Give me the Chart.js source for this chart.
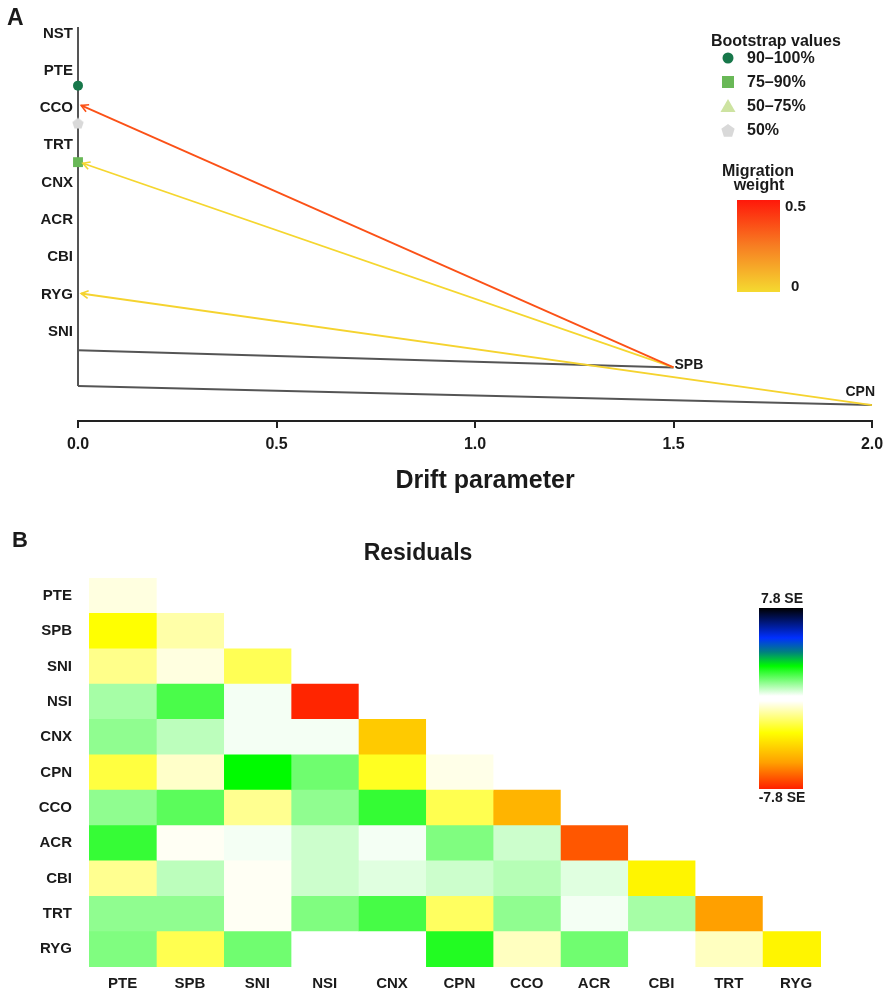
<!DOCTYPE html>
<html>
<head>
<meta charset="utf-8">
<script src="https://cdn.jsdelivr.net/npm/chart.js@4/dist/chart.umd.min.js"></script>
<style>
  body { margin: 0; background: #fff; }
  #wrap { position: relative; width: 888px; height: 993px; }
  #tree { position: absolute; left: 0; top: 0; }
  #resid { position: absolute; left: 0; top: 500px; }
</style>
</head>
<body>
<div id="wrap">
  <canvas id="tree" width="888" height="500"></canvas>
  <canvas id="resid" width="888" height="493"></canvas>
</div>
<script>
// ---- panel A data ----
const popLabels = ["NST", "PTE", "CCO", "TRT", "CNX", "ACR", "CBI", "RYG", "SNI"];
const popRows = [1, 2, 3, 4, 5, 6, 7, 8, 9];
const driftTicks = [0, 0.5, 1, 1.5, 2];

// tree edges as [drift, row] points
const treeTrunk = [[0, 0.83], [0, 10.45]];
const spbBranch = [[0, 9.49], [1.5, 9.95]];
const cpnBranch = [[0, 10.45], [2.0, 10.96]];

// migration edges
const migFrom = [[1.5, 9.95], [1.5, 9.95], [2.0, 10.96]];
const migTo = [[0.008, 2.93], [0.012, 4.48], [0.008, 7.97]];
const migWeight = [0.36, 0.01, 0.02];

// bootstrap markers on the trunk
const bootRows = [2.4, 3.41, 4.45];
const bootClass = [0, 3, 1];
const bootLabels = ["90–100%", "75–90%", "50–75%", "50%"];
const bootColors = ["#17774a", "#69b857", "#cde3a1", "#d9d9d9"];

// ---- panel B data ----
const residPops = ["PTE", "SPB", "SNI", "NSI", "CNX", "CPN", "CCO", "ACR", "CBI", "TRT", "RYG"];
const residMax = 7.8;
const residuals = [
    [-0.34],
    [-2.8, -0.96],
    [-1.29, -0.34, -1.87],
    [0.93, 1.88, 0.11, -7.7],
    [1.15, 0.7, 0.11, 0.11, -4.3],
    [-2.1, -0.6, 2.65, 1.5, -2.45, -0.25],
    [1.15, 1.71, -1.22, 1.15, 2.11, -1.93, -4.9],
    [2.09, -0.12, 0.11, 0.53, 0.11, 1.32, 0.53, -6.8],
    [-1.22, 0.7, -0.12, 0.53, 0.32, 0.53, 0.76, 0.32, -3.1],
    [1.15, 1.15, -0.12, 1.32, 1.92, -1.75, 1.15, 0.11, 0.93, -5.46],
    [1.32, -1.93, 1.49, 0, 0, 2.3, -0.69, 1.49, 0, -0.69, -3.1],
];

const FONT = '"Liberation Sans", Arial, sans-serif';
Chart.defaults.font.family = FONT;
Chart.defaults.color = "#1a1a1a";

// colour ramps
const negStops = [[0, [255, 255, 255]], [0.36, [255, 255, 0]], [0.7, [255, 160, 0]], [1, [255, 32, 0]]];
const posStops = [[0, [255, 255, 255]], [0.34, [0, 251, 0]], [0.5, [0, 128, 128]], [0.66, [0, 48, 255]], [1, [0, 0, 0]]];
const migStops = [[0, [245, 218, 48]], [0.5, [247, 126, 34]], [1, [255, 24, 10]]];

const ramp = (stops, t) => {
    for (let k = 1; k < stops.length; k++) {
        if (t <= stops[k][0]) {
            const [t0, c0] = stops[k - 1];
            const [t1, c1] = stops[k];
            const f = (t - t0) / (t1 - t0);
            const c = c0.map((v, n) => Math.round(v + (c1[n] - v) * f));
            return `rgb(${c[0]},${c[1]},${c[2]})`;
        }
    }
    const c = stops[stops.length - 1][1];
    return `rgb(${c[0]},${c[1]},${c[2]})`;
};

const residColor = (v) => {
    const t = Math.min(1, Math.abs(v) / residMax);
    return ramp(v < 0 ? negStops : posStops, t);
};
const migColor = (w) => ramp(migStops, Math.min(1, w / 0.5));

// pentagon marker
const pentagon = (size, color) => {
    const c = document.createElement("canvas");
    c.width = size;
    c.height = size;
    const g = c.getContext("2d");
    const r = size / 2;
    g.fillStyle = color;
    g.beginPath();
    for (let k = 0; k < 5; k++) {
        const a = -Math.PI / 2 + (k * 2 * Math.PI) / 5;
        g.lineTo(r + r * Math.cos(a), r + 0.5 + r * Math.sin(a));
    }
    g.closePath();
    g.fill();
    return c;
};
const markerStyles = ["circle", "rect", "triangle", pentagon(12, bootColors[3])];
const markerRadius = [5, 7, 6, 6];

const pts = (arr) => arr.map(([x, y]) => ({ x, y }));

// ---- panel A decorations ----
const treeDecor = {
    id: "treeDecor",
    afterDraw(chart) {
        const { ctx, scales } = chart;
        const px = (p) => [scales.x.getPixelForValue(p[0]), scales.y.getPixelForValue(p[1])];
        ctx.save();

        // arrowheads
        migFrom.forEach((from, i) => {
            const [x0, y0] = px(from);
            const [x1, y1] = px(migTo[i]);
            const a = Math.atan2(y0 - y1, x0 - x1);
            ctx.strokeStyle = migColor(migWeight[i]);
            ctx.lineWidth = 1.6;
            ctx.beginPath();
            ctx.moveTo(x1 + 8 * Math.cos(a + 0.5), y1 + 8 * Math.sin(a + 0.5));
            ctx.lineTo(x1, y1);
            ctx.lineTo(x1 + 8 * Math.cos(a - 0.5), y1 + 8 * Math.sin(a - 0.5));
            ctx.stroke();
        });

        ctx.fillStyle = "#1a1a1a";
        // leaf labels
        ctx.font = `bold 14px ${FONT}`;
        ctx.textBaseline = "middle";
        const [sx, sy] = px(spbBranch[1]);
        ctx.textAlign = "left";
        ctx.fillText("SPB", sx + 1, sy - 2.5);
        const [cx, cy] = px(cpnBranch[1]);
        ctx.textAlign = "right";
        ctx.fillText("CPN", cx + 3, cy - 12.5);

        // panel letter
        ctx.textAlign = "left";
        ctx.textBaseline = "alphabetic";
        ctx.font = `bold 23px ${FONT}`;
        ctx.fillText("A", 7, 25);

        // axis title
        ctx.font = `bold 25px ${FONT}`;
        ctx.textAlign = "center";
        ctx.textBaseline = "middle";
        ctx.fillText("Drift parameter", 485, 481);

        // bootstrap legend
        ctx.textAlign = "left";
        ctx.textBaseline = "alphabetic";
        ctx.font = `bold 16px ${FONT}`;
        ctx.fillText("Bootstrap values", 711, 46);
        ctx.textBaseline = "middle";
        bootLabels.forEach((lab, k) => {
            const y = 58 + k * 24;
            ctx.fillStyle = bootColors[k];
            ctx.beginPath();
            if (k === 0) {
                ctx.arc(728, y, 5.5, 0, Math.PI * 2);
            } else if (k === 1) {
                ctx.rect(722, y - 6, 12, 12);
            } else if (k === 2) {
                ctx.moveTo(728, y - 7);
                ctx.lineTo(735.5, y + 6);
                ctx.lineTo(720.5, y + 6);
                ctx.closePath();
            } else {
                for (let n = 0; n < 5; n++) {
                    const a = -Math.PI / 2 + (n * 2 * Math.PI) / 5;
                    ctx.lineTo(728 + 7 * Math.cos(a), y + 1 + 7 * Math.sin(a));
                }
                ctx.closePath();
            }
            ctx.fill();
            ctx.fillStyle = "#1a1a1a";
            ctx.fillText(lab, 747, y + 1);
        });

        // migration weight scale
        ctx.textAlign = "center";
        ctx.textBaseline = "alphabetic";
        ctx.fillText("Migration", 758, 176);
        ctx.fillText("weight", 759, 190);
        const grad = ctx.createLinearGradient(0, 292, 0, 200);
        migStops.forEach(([t, c]) => grad.addColorStop(t, `rgb(${c[0]},${c[1]},${c[2]})`));
        ctx.fillStyle = grad;
        ctx.fillRect(737, 200, 43, 92);
        ctx.fillStyle = "#1a1a1a";
        ctx.textAlign = "left";
        ctx.textBaseline = "middle";
        ctx.font = `bold 15px ${FONT}`;
        ctx.fillText("0.5", 785, 207);
        ctx.fillText("0", 791, 287);
        ctx.restore();
    },
};

const lineSet = (data, color, width) => ({
    data: pts(data),
    showLine: true,
    borderColor: color,
    borderWidth: width,
    pointRadius: 0,
    clip: false,
});

new Chart(document.getElementById("tree"), {
    type: "scatter",
    data: {
        datasets: [
            {
                data: bootRows.map((y) => ({ x: 0, y })),
                pointStyle: bootClass.map((c) => markerStyles[c]),
                pointRadius: bootClass.map((c) => markerRadius[c]),
                backgroundColor: bootClass.map((c) => bootColors[c]),
                borderWidth: 0,
                clip: false,
            },
            ...migFrom.map((from, i) => lineSet([from, migTo[i]], migColor(migWeight[i]), 1.8)),
            lineSet(treeTrunk, "#555555", 2),
            lineSet(spbBranch, "#555555", 2),
            lineSet(cpnBranch, "#555555", 2),
        ],
    },
    options: {
        responsive: false,
        animation: false,
        layout: { padding: { top: 12, right: 16, left: 0, bottom: 0 } },
        plugins: { legend: { display: false }, tooltip: { enabled: false } },
        scales: {
            x: {
                type: "linear",
                min: 0,
                max: 2,
                afterBuildTicks: (s) => {
                    s.ticks = driftTicks.map((v) => ({ value: v }));
                },
                afterFit: (s) => {
                    s.height = 79;
                    s.paddingLeft = 0;
                    s.paddingRight = 0;
                },
                grid: { drawOnChartArea: false, color: "#222", lineWidth: 2, tickLength: 7 },
                border: { color: "#222", width: 2 },
                ticks: {
                    padding: 7,
                    maxRotation: 0,
                    color: "#1a1a1a",
                    font: { size: 16, weight: "bold" },
                    callback: (v) => v.toFixed(1),
                },
            },
            y: {
                type: "linear",
                reverse: true,
                min: 0.48,
                max: 11.387,
                afterBuildTicks: (s) => {
                    s.ticks = popRows.map((v) => ({ value: v }));
                },
                afterFit: (s) => {
                    s.width = 78;
                },
                grid: { display: false, drawTicks: false },
                border: { display: false },
                ticks: {
                    padding: 5,
                    color: "#1a1a1a",
                    font: { size: 15, weight: "bold" },
                    callback: (v) => popLabels[popRows.indexOf(v)],
                },
            },
        },
    },
    plugins: [treeDecor],
});

// ---- panel B ----
const residDecor = {
    id: "residDecor",
    afterDraw(chart) {
        const { ctx } = chart;
        ctx.save();
        ctx.fillStyle = "#1a1a1a";
        ctx.font = `bold 22px ${FONT}`;
        ctx.textAlign = "left";
        ctx.textBaseline = "alphabetic";
        ctx.fillText("B", 12, 47);
        ctx.font = `bold 23px ${FONT}`;
        ctx.textAlign = "center";
        ctx.textBaseline = "middle";
        ctx.fillText("Residuals", 418, 54);

        // colour bar
        const up = ctx.createLinearGradient(0, 196, 0, 108);
        posStops.forEach(([t, c]) => up.addColorStop(t, `rgb(${c[0]},${c[1]},${c[2]})`));
        ctx.fillStyle = up;
        ctx.fillRect(759, 108, 44, 88);
        const down = ctx.createLinearGradient(0, 201, 0, 289);
        negStops.forEach(([t, c]) => down.addColorStop(t, `rgb(${c[0]},${c[1]},${c[2]})`));
        ctx.fillStyle = down;
        ctx.fillRect(759, 201, 44, 88);

        ctx.fillStyle = "#1a1a1a";
        ctx.font = `bold 14px ${FONT}`;
        ctx.fillText(`${residMax} SE`, 782, 99);
        ctx.fillText(`-${residMax} SE`, 782, 298);
        ctx.restore();
    },
};

const cellSets = residPops.map((col, j) => ({
    label: col,
    data: residPops.map((row, i) => (i >= j ? [j, j + 1] : null)),
    backgroundColor: residPops.map((row, i) => (i >= j ? residColor(residuals[i][j]) : "rgba(0,0,0,0)")),
    borderWidth: 0,
    barPercentage: 1,
    categoryPercentage: 1,
    grouped: false,
    clip: 0,
}));

new Chart(document.getElementById("resid"), {
    type: "bar",
    data: { labels: residPops, datasets: cellSets },
    options: {
        indexAxis: "y",
        responsive: false,
        animation: false,
        layout: { padding: { top: 78, right: 67, left: 0, bottom: 0 } },
        plugins: { legend: { display: false }, tooltip: { enabled: false } },
        scales: {
            x: {
                type: "linear",
                min: 0,
                max: 10.87,
                afterBuildTicks: (s) => {
                    s.ticks = residPops.map((p, j) => ({ value: j + 0.5 }));
                },
                afterFit: (s) => {
                    s.height = 26;
                },
                grid: { display: false, drawTicks: false },
                border: { display: false },
                ticks: {
                    padding: 8,
                    autoSkip: false,
                    maxRotation: 0,
                    color: "#1a1a1a",
                    font: { size: 15, weight: "bold" },
                    callback: (v, i) => residPops[i],
                },
            },
            y: {
                afterFit: (s) => {
                    s.width = 89;
                },
                grid: { display: false, drawTicks: false },
                border: { display: false },
                ticks: {
                    padding: 17,
                    color: "#1a1a1a",
                    font: { size: 15, weight: "bold" },
                },
            },
        },
    },
    plugins: [residDecor],
});
</script>
</body>
</html>
